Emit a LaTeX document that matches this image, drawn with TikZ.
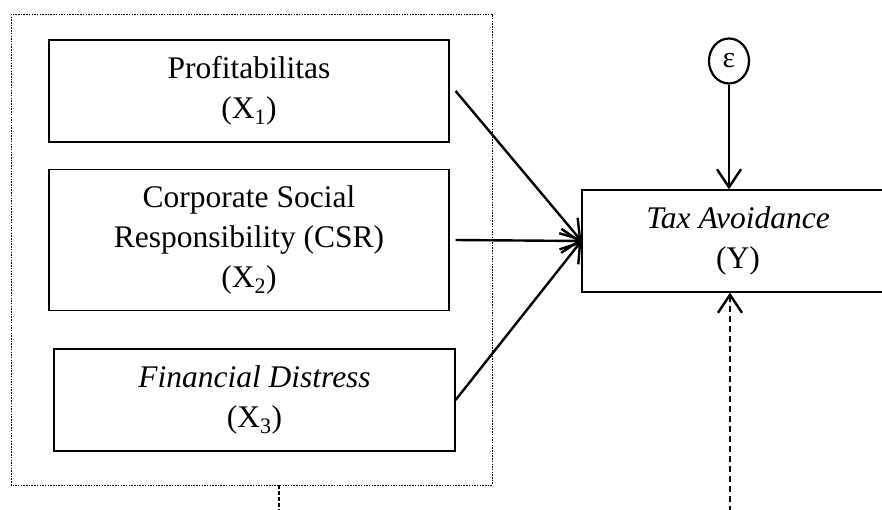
\documentclass[tikz,border=0pt]{standalone}
\usepackage{fontspec}
\setmainfont{Liberation Serif}
\usetikzlibrary{arrows.meta,shapes.geometric}
\begin{document}
\begin{tikzpicture}[x=1pt,y=-1pt,
	var node/.style = {rectangle,draw,line width=1.2pt,align=center,inner sep=0pt,
		minimum width=400pt,minimum height=102pt,font=\fontsize{31.5}{40}\selectfont},
	path arrow/.style = {line width=2.4pt,-{Straight Barb[length=18pt,width=24pt,line width=2.4pt]}}]
	
	\clip (0,0) rectangle (882,510);
	
	\node[var node] (x1) at (249,91) {Profitabilitas\\(X\textsubscript{1})};
	\node[var node,minimum height=141pt] (x2) at (249,240) {Corporate Social\\Responsibility (CSR)\\(X\textsubscript{2})};
	\node[var node,minimum width=401pt] (x3) at (254.5,400) {\textit{Financial Distress}\\(X\textsubscript{3})};
	\node[var node,minimum width=312pt] (y) at (738,241) {\textit{Tax Avoidance}\\(Y)};
	\node[ellipse,draw,line width=2.2pt,inner sep=0pt,minimum width=40pt,minimum height=45pt,
		font=\fontsize{30}{36}\selectfont] (e) at (729,61) {ε};
	
	% group of independent variables
	\draw[line width=0.9pt,dash pattern=on 1.5pt off 1.2pt] (11,14) rectangle (492,485);
	\coordinate (grp) at (279,485);
	\coordinate (grp end) at (279,512);
	\coordinate (ybot) at (730,512);
	
	\draw[path arrow] ([xshift=6pt]x1.east) -- (y.west);
	\draw[path arrow] ([xshift=6pt]x2.east) -- (y.west);
	\draw[path arrow] (x3.east) -- (y.west);
	\draw[path arrow] (e) -- (e |- y.north);
	\draw[path arrow,dash pattern=on 6pt off 4pt] (ybot) -- (ybot |- y.south);
	\draw[line width=1.2pt,dash pattern=on 4pt off 2pt] (grp) -- (grp end);
\end{tikzpicture}
\end{document}
